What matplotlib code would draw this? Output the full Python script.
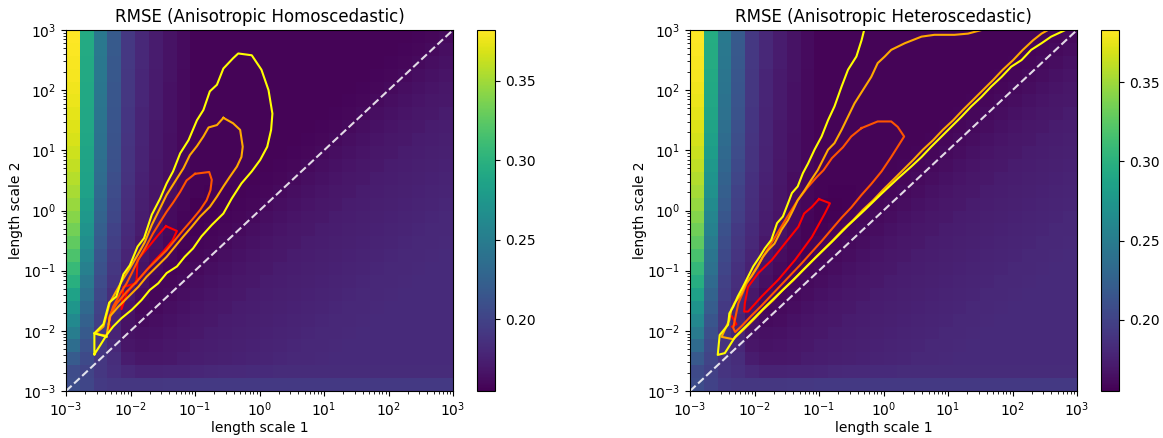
import matplotlib.pyplot as plt
import numpy as np

# grid of length scales (28 x 28 cells, log spaced)
ls_edges = np.logspace(-3, 3, 29)

# RMSE values in thousandths, rows from top (ls2 = 1e3) to bottom (ls2 = 1e-3)
homo_rows = [
    "382 293 246 218 192 180 172 166 162 157 157 157 157 157 157 157 157 157 157 157 157 157 157 157 157 158 159 161",
    "381 293 246 218 192 180 172 166 162 157 157 157 157 157 157 157 157 157 157 157 157 157 157 157 158 159 161 163",
    "380 292 245 217 192 180 172 166 162 157 157 157 157 157 157 157 157 157 157 157 157 157 157 158 159 161 163 165",
    "379 292 245 217 191 179 171 166 161 157 157 157 157 157 157 157 157 157 157 157 157 157 158 159 161 163 165 167",
    "377 291 244 216 191 179 171 165 161 157 157 157 157 157 157 157 157 157 157 157 157 158 159 161 163 165 167 169",
    "375 291 243 216 191 179 171 165 161 157 157 157 157 157 157 157 157 157 157 157 158 159 161 163 165 167 169 170",
    "373 290 242 215 190 178 171 165 161 157 157 157 157 157 157 157 157 157 157 158 159 161 163 165 167 169 170 172",
    "371 290 241 214 190 178 170 165 160 157 157 157 157 157 157 157 157 157 158 159 161 163 165 167 169 170 172 173",
    "368 289 240 213 189 178 170 164 160 157 157 157 157 157 157 157 157 158 159 161 163 165 167 169 170 172 173 174",
    "365 288 238 212 188 177 170 164 160 157 157 157 157 157 157 157 158 159 161 163 165 167 169 170 172 173 174 175",
    "361 287 236 211 188 177 169 164 160 157 157 157 157 157 157 158 159 161 163 165 167 169 170 172 173 174 175 176",
    "357 286 234 209 187 176 169 163 159 157 157 157 157 157 158 159 161 163 165 167 169 170 172 173 174 175 176 177",
    "352 284 232 207 186 175 168 163 159 157 156 156 157 158 159 161 163 165 167 169 170 172 173 174 175 176 177 178",
    "347 280 229 205 185 174 168 162 159 155 155 156 158 159 161 163 165 167 169 170 172 173 174 175 176 177 178 179",
    "341 276 226 203 184 173 167 162 158 155 156 158 159 161 163 165 167 169 170 172 173 174 175 176 177 178 179 180",
    "334 272 223 200 182 172 166 161 157 156 158 159 161 163 165 167 169 170 172 173 174 175 176 177 178 179 180 180",
    "327 266 219 197 180 170 165 160 157 158 159 161 163 165 167 169 170 172 173 174 175 176 177 178 179 180 180 181",
    "318 260 215 194 178 168 163 159 156 159 161 163 165 167 169 170 172 173 174 175 176 177 178 179 180 180 181 182",
    "308 253 211 191 176 166 161 158 159 161 163 165 167 169 170 172 173 174 175 176 177 178 179 180 180 181 182 182",
    "298 246 207 188 174 164 159 159 161 163 165 167 169 170 172 173 174 175 176 177 178 179 180 180 181 182 182 182",
    "286 239 203 184 170 162 159 161 163 165 167 169 170 172 173 174 175 176 177 178 179 180 180 181 182 182 182 182",
    "274 232 200 180 167 160 161 163 165 167 169 170 172 173 174 175 176 177 178 179 180 180 181 182 182 182 182 182",
    "262 225 197 178 166 162 163 165 167 169 170 172 173 174 175 176 177 178 179 180 180 181 182 182 182 182 182 182",
    "250 218 194 178 166 164 165 167 169 170 172 173 174 175 176 177 178 179 180 180 181 182 182 182 182 182 182 182",
    "235 212 192 180 168 166 167 169 170 172 173 174 175 176 177 178 179 180 180 181 182 182 182 182 182 182 182 182",
    "219 206 191 184 172 169 169 170 172 173 174 175 176 177 178 179 180 180 181 182 182 182 182 182 182 182 182 182",
    "207 201 191 186 180 177 177 178 178 179 180 181 181 182 182 183 183 183 183 183 183 183 183 183 183 183 183 183",
    "209 202 194 191 191 191 191 192 192 193 193 193 193 193 193 193 193 193 193 193 193 193 193 193 193 193 193 193",
]

hetero_rows = [
    "383 295 247 219 192 180 172 166 162 157 157 157 157 157 157 157 157 157 157 157 157 157 157 157 157 158 159 161",
    "382 294 246 218 192 180 172 166 162 157 157 157 157 157 157 157 157 157 157 157 157 157 157 157 158 159 161 163",
    "381 294 245 217 192 180 172 166 162 157 157 157 157 157 157 157 157 157 157 157 157 157 157 158 159 161 163 165",
    "380 293 244 216 191 179 171 166 161 157 157 157 157 157 157 157 157 157 157 157 157 157 158 159 161 163 165 167",
    "378 292 243 215 191 179 171 165 161 157 157 157 157 157 157 157 157 157 157 157 157 158 159 161 163 165 167 169",
    "376 291 241 214 191 179 171 165 161 157 157 157 157 157 157 157 157 157 157 157 158 159 161 163 165 167 169 170",
    "374 289 239 213 190 178 171 165 161 157 157 157 157 157 157 157 157 157 157 158 159 161 163 165 167 169 170 172",
    "371 287 237 211 190 178 170 165 160 157 157 157 157 157 157 157 157 157 158 159 161 163 165 167 169 170 172 173",
    "368 284 235 209 189 178 170 164 160 157 157 157 157 157 157 157 157 158 159 161 163 165 167 169 170 172 173 174",
    "365 281 232 207 188 177 170 164 160 157 157 157 157 157 157 157 158 159 161 163 165 167 169 170 172 173 174 175",
    "361 277 229 205 188 177 169 164 160 157 157 157 157 157 157 158 159 161 163 165 167 169 170 172 173 174 175 176",
    "357 273 226 203 187 176 169 163 159 157 157 157 157 157 158 159 161 163 165 167 169 170 172 173 174 175 176 177",
    "352 269 223 200 186 175 168 163 159 157 156 156 157 158 159 161 163 165 167 169 170 172 173 174 175 176 177 178",
    "347 264 220 198 185 174 168 162 159 155 155 156 158 159 161 163 165 167 169 170 172 173 174 175 176 177 178 179",
    "341 259 216 196 184 173 167 162 158 155 156 158 159 161 163 165 167 169 170 172 173 174 175 176 177 178 179 180",
    "334 254 212 193 182 172 166 161 157 156 158 159 161 163 165 167 169 170 172 173 174 175 176 177 178 179 180 180",
    "326 249 208 191 180 170 165 160 157 158 159 161 163 165 167 169 170 172 173 174 175 176 177 178 179 180 180 181",
    "317 244 205 189 178 168 163 159 156 159 161 163 165 167 169 170 172 173 174 175 176 177 178 179 180 180 181 182",
    "307 239 202 187 176 166 161 158 159 161 163 165 167 169 170 172 173 174 175 176 177 178 179 180 180 181 182 182",
    "297 233 199 185 174 164 159 159 161 163 165 167 169 170 172 173 174 175 176 177 178 179 180 180 181 182 182 182",
    "285 227 196 183 170 162 159 161 163 165 167 169 170 172 173 174 175 176 177 178 179 180 180 181 182 182 182 182",
    "273 221 193 180 167 160 161 163 165 167 169 170 172 173 174 175 176 177 178 179 180 180 181 182 182 182 182 182",
    "261 215 191 178 166 162 163 165 167 169 170 172 173 174 175 176 177 178 179 180 180 181 182 182 182 182 182 182",
    "249 210 189 178 166 164 165 167 169 170 172 173 174 175 176 177 178 179 180 180 181 182 182 182 182 182 182 182",
    "234 205 188 180 168 166 167 169 170 172 173 174 175 176 177 178 179 180 180 181 182 182 182 182 182 182 182 182",
    "218 201 188 184 172 169 169 170 172 173 174 175 176 177 178 179 180 180 181 182 182 182 182 182 182 182 182 182",
    "206 198 189 186 180 177 177 178 178 179 180 181 181 182 182 183 183 183 183 183 183 183 183 183 183 183 183 183",
    "208 200 193 191 191 191 191 192 192 193 193 193 193 193 193 193 193 193 193 193 193 193 193 193 193 193 193 193",
]

# contour lines, as (log10 ls1, log10 ls2) pairs; levels 0..3 = red .. yellow
homo_red = [(-1.45, -0.26), (-1.28, -0.34), (-1.35, -0.50), (-1.49, -0.68), (-1.65, -0.86),
            (-1.78, -1.03), (-1.93, -1.20), (-2.06, -1.38), (-2.14, -1.64), (-2.11, -1.27),
            (-1.91, -1.21), (-1.89, -0.82), (-1.74, -0.63), (-1.58, -0.42), (-1.45, -0.26)]
homo_red_tail = [(-2.34, -1.79), (-2.32, -1.96)]
homo_orangered = [(-1.00, 0.61), (-0.78, 0.64), (-0.74, 0.51), (-0.76, 0.34), (-0.82, 0.17),
                  (-0.92, 0.01), (-1.05, -0.16), (-1.18, -0.32), (-1.31, -0.49), (-1.44, -0.66),
                  (-1.59, -0.82), (-1.75, -0.99), (-1.90, -1.18), (-2.06, -1.35), (-2.21, -1.54),
                  (-2.32, -1.74), (-2.34, -1.90), (-2.30, -1.70), (-2.27, -1.60), (-2.16, -1.38),
                  (-2.06, -1.21), (-1.98, -1.04), (-1.88, -0.82), (-1.76, -0.60), (-1.65, -0.38),
                  (-1.54, -0.19), (-1.44, -0.02), (-1.34, 0.13), (-1.23, 0.31), (-1.13, 0.50),
                  (-1.00, 0.61)]
homo_orange = [(-0.56, 1.54), (-0.41, 1.45), (-0.30, 1.34), (-0.26, 1.06), (-0.28, 0.89),
               (-0.35, 0.73), (-0.46, 0.56), (-0.56, 0.40), (-0.66, 0.23), (-0.77, 0.06),
               (-0.92, -0.10), (-1.05, -0.27), (-1.18, -0.43), (-1.31, -0.60), (-1.44, -0.77),
               (-1.59, -0.93), (-1.75, -1.10), (-1.88, -1.27), (-2.03, -1.43), (-2.19, -1.60),
               (-2.32, -1.76), (-2.37, -2.08), (-2.55, -2.05), (-2.42, -1.93), (-2.32, -1.53),
               (-2.21, -1.32), (-2.11, -1.13), (-2.01, -0.96), (-1.89, -0.74), (-1.78, -0.53),
               (-1.67, -0.24), (-1.54, 0.04), (-1.44, 0.26), (-1.31, 0.48), (-1.18, 0.70),
               (-1.08, 0.92), (-0.97, 1.07), (-0.87, 1.23), (-0.79, 1.38), (-0.66, 1.42),
               (-0.56, 1.54)]
homo_yellow = [(-2.56, -2.39), (-2.56, -2.04), (-2.42, -1.89), (-2.33, -1.53), (-2.22, -1.43),
               (-2.11, -1.06), (-2.01, -0.91), (-1.89, -0.60), (-1.79, -0.46), (-1.67, -0.07),
               (-1.54, 0.20), (-1.44, 0.45), (-1.34, 0.65), (-1.23, 0.95), (-1.10, 1.17),
               (-0.97, 1.50), (-0.87, 1.67), (-0.77, 1.98), (-0.66, 2.09), (-0.56, 2.36),
               (-0.41, 2.53), (-0.33, 2.61), (-0.12, 2.58), (0.03, 2.34), (0.14, 2.00),
               (0.20, 1.61), (0.18, 1.34), (0.12, 1.06), (0.01, 0.84), (-0.12, 0.65),
               (-0.28, 0.45), (-0.43, 0.20), (-0.56, -0.05), (-0.74, -0.24), (-0.90, -0.43),
               (-1.03, -0.63), (-1.16, -0.77), (-1.28, -0.93), (-1.44, -1.04), (-1.57, -1.21),
               (-1.70, -1.32), (-1.83, -1.49), (-1.98, -1.65), (-2.14, -1.79), (-2.27, -1.93),
               (-2.37, -2.07), (-2.47, -2.24), (-2.56, -2.39)]
homo_yellow_tick = [(-2.56, -2.04), (-2.37, -2.10)]

hetero_red = [(-1.00, 0.19), (-0.83, 0.12), (-0.91, -0.05), (-1.11, -0.44), (-1.37, -0.82),
              (-1.63, -1.15), (-1.89, -1.43), (-2.10, -1.68), (-2.16, -1.68), (-2.15, -1.54),
              (-2.10, -1.27), (-1.94, -1.04), (-1.73, -0.82), (-1.53, -0.55), (-1.32, -0.27),
              (-1.23, -0.05), (-1.11, 0.06), (-1.00, 0.19)]
hetero_red_tail = [(-2.35, -1.76), (-2.28, -1.89), (-2.35, -1.93)]
hetero_orangered = [(-0.34, 1.37), (-0.09, 1.48), (0.12, 1.48), (0.22, 1.39), (0.32, 1.23),
                    (0.22, 1.06), (0.12, 0.89), (-0.03, 0.65), (-0.19, 0.44), (-0.34, 0.26),
                    (-0.50, 0.05), (-0.65, -0.12), (-0.81, -0.32), (-0.96, -0.51), (-1.12, -0.70),
                    (-1.27, -0.88), (-1.43, -1.06), (-1.58, -1.23), (-1.74, -1.41), (-1.89, -1.58),
                    (-2.05, -1.75), (-2.20, -1.92), (-2.30, -2.02), (-2.33, -1.95), (-2.25, -1.54),
                    (-2.12, -1.21), (-1.99, -0.99), (-1.84, -0.72), (-1.68, -0.44), (-1.50, -0.12),
                    (-1.33, 0.17), (-1.18, 0.38), (-1.04, 0.55), (-0.93, 0.67), (-0.80, 0.87),
                    (-0.63, 1.05), (-0.50, 1.23), (-0.34, 1.37)]
hetero_orange = [(1.52, 3.00), (1.31, 2.94), (1.10, 2.92), (0.79, 2.92), (0.59, 2.89),
                 (0.33, 2.78), (0.12, 2.67), (0.02, 2.56), (-0.09, 2.45), (-0.19, 2.22),
                 (-0.32, 2.00), (-0.45, 1.78), (-0.55, 1.56), (-0.65, 1.34), (-0.76, 1.12),
                 (-0.86, 1.01), (-0.94, 0.84), (-1.02, 0.67), (-1.12, 0.51), (-1.22, 0.34),
                 (-1.33, 0.17), (-1.40, 0.01), (-1.48, -0.16), (-1.58, -0.32), (-1.69, -0.55),
                 (-1.79, -0.66), (-1.87, -0.77), (-1.95, -0.93), (-2.05, -1.10), (-2.13, -1.21),
                 (-2.20, -1.38), (-2.31, -1.54), (-2.36, -1.65), (-2.39, -1.82), (-2.51, -2.10),
                 (-2.33, -2.14), (-2.18, -1.99), (-2.02, -1.82), (-1.87, -1.65), (-1.71, -1.49),
                 (-1.56, -1.32), (-1.40, -1.16), (-1.25, -0.99), (-1.09, -0.82), (-0.94, -0.66),
                 (-0.78, -0.49), (-0.63, -0.32), (-0.47, -0.16), (-0.32, 0.01), (-0.16, 0.17),
                 (-0.01, 0.34), (0.15, 0.51), (0.30, 0.67), (0.46, 0.84), (0.61, 1.01),
                 (0.77, 1.17), (0.92, 1.34), (1.08, 1.50), (1.23, 1.67), (1.39, 1.84),
                 (1.54, 2.00), (1.70, 2.17), (1.85, 2.34), (2.01, 2.50), (2.16, 2.67),
                 (2.32, 2.83), (2.45, 2.94), (2.55, 3.00)]
hetero_yellow = [(-0.30, 3.00), (-0.34, 2.83), (-0.42, 2.56), (-0.55, 2.34), (-0.65, 2.06),
                 (-0.76, 1.73), (-0.86, 1.50), (-0.96, 1.23), (-1.07, 1.01), (-1.17, 0.78),
                 (-1.25, 0.62), (-1.33, 0.40), (-1.42, 0.29), (-1.48, 0.12), (-1.56, -0.10),
                 (-1.65, -0.21), (-1.74, -0.49), (-1.84, -0.63), (-1.92, -0.77), (-2.02, -0.93),
                 (-2.10, -1.10), (-2.18, -1.27), (-2.26, -1.43), (-2.33, -1.60), (-2.39, -1.71),
                 (-2.41, -1.90), (-2.54, -2.07), (-2.57, -2.40), (-2.46, -2.37), (-2.30, -2.10),
                 (-2.10, -1.89), (-1.84, -1.61), (-1.58, -1.34), (-1.32, -1.07), (-1.06, -0.79),
                 (-0.80, -0.52), (-0.55, -0.25), (-0.29, 0.01), (-0.03, 0.28), (0.23, 0.54),
                 (0.43, 0.73), (0.59, 0.89), (0.74, 1.06), (0.90, 1.23), (1.05, 1.39),
                 (1.21, 1.56), (1.36, 1.73), (1.52, 1.89), (1.67, 2.06), (1.83, 2.22),
                 (1.98, 2.39), (2.14, 2.50), (2.29, 2.67), (2.45, 2.78), (2.60, 2.89),
                 (2.82, 3.00)]

panels = [
    {
        "title": "RMSE (Anisotropic Homoscedastic)",
        "rows": homo_rows,
        "lines": [(0, homo_red), (0, homo_red_tail), (1, homo_orangered), (2, homo_orange),
                  (3, homo_yellow), (3, homo_yellow_tick)],
        "ax": [66 / 1163, 47 / 438, 387 / 1163, 361 / 438],
        "cax": [477 / 1163, 47 / 438, 18 / 1163, 361 / 438],
    },
    {
        "title": "RMSE (Anisotropic Heteroscedastic)",
        "rows": hetero_rows,
        "lines": [(0, hetero_red), (0, hetero_red_tail), (1, hetero_orangered),
                  (2, hetero_orange), (3, hetero_yellow)],
        "ax": [690 / 1163, 47 / 438, 387 / 1163, 361 / 438],
        "cax": [1101 / 1163, 47 / 438, 18 / 1163, 361 / 438],
    },
]

fig = plt.figure(figsize=(11.63, 4.38), dpi=100)

for p in panels:
    ax = fig.add_axes(p["ax"])
    cax = fig.add_axes(p["cax"])

    rmse = np.array([[int(v) for v in row.split()] for row in p["rows"][::-1]]) / 1000
    mesh = ax.pcolormesh(ls_edges, ls_edges, rmse, cmap="viridis")

    for level, pts in p["lines"]:
        pts = np.array(pts)
        ax.plot(10 ** pts[:, 0], 10 ** pts[:, 1], color=plt.cm.autumn(level / 3), lw=1.5)

    ax.plot(ls_edges[[0, -1]], ls_edges[[0, -1]], "--", color="white", lw=1.5, alpha=0.85)

    ax.set_xscale("log")
    ax.set_yscale("log")
    ax.set_xlim(ls_edges[0], ls_edges[-1])
    ax.set_ylim(ls_edges[0], ls_edges[-1])
    ax.set_xlabel("length scale 1", labelpad=1)
    ax.set_ylabel("length scale 2", labelpad=0)
    ax.set_title(p["title"])
    fig.colorbar(mesh, cax=cax)

fig.savefig("out.png", dpi=100)
